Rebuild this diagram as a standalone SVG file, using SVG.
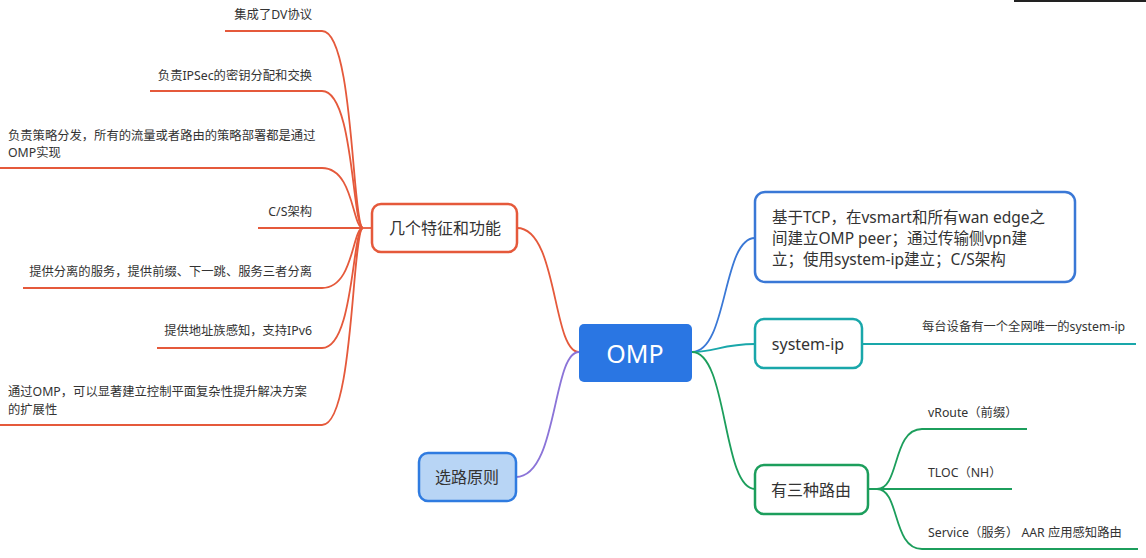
<svg xmlns="http://www.w3.org/2000/svg" width="1146" height="558" viewBox="0 0 1146 558">
<style>
text{font-family:"Noto Sans","Noto Sans CJK SC",sans-serif;fill:#333}
.leaf{font-size:12.3px}
.r{text-anchor:end}
.c{text-anchor:middle;dominant-baseline:central}
.red{fill:none;stroke:#E5593B;stroke-width:1.8}
.pur{fill:none;stroke:#8B74D8;stroke-width:1.8}
.blu{fill:none;stroke:#3A78D6;stroke-width:1.8}
.tea{fill:none;stroke:#19A7AA;stroke-width:1.8}
.grn{fill:none;stroke:#1C9E5C;stroke-width:1.8}
</style>
<rect width="1146" height="558" fill="#fff"/>
<rect x="1014" y="0" width="132" height="2" fill="#222"/>
<g id="connectors">
<path class="red" d="M517,228 C558,228 552,352 579,352"/>
<path class="pur" d="M516,477 C558,477 552,352 579,352"/>
<path class="blu" d="M692,352 C728,352 722,238 755,238"/>
<path class="tea" d="M692,352 C715,352 722,344 755,344"/>
<path class="grn" d="M692,352 C728,352 722,489 755,489"/>
<path class="red" d="M372,228 L363,228"/>
<path class="red" d="M363,228 C352,228 354,31 322,31 L225,31"/>
<path class="red" d="M363,228 C352,228 354,91 322,91 L150,91"/>
<path class="red" d="M363,228 C352,228 354,168 322,168 L0,168"/>
<path class="red" d="M363,228 L258,228"/>
<path class="red" d="M363,228 C352,228 354,288 322,288 L23,288"/>
<path class="red" d="M363,228 C352,228 354,348 322,348 L157,348"/>
<path class="red" d="M363,228 C352,228 354,425 322,425 L0,425"/>
<path class="tea" d="M862,344 L1136,344"/>
<path class="grn" d="M868,489 L877,489 C900,489 892,429 922,429 L1027,429"/>
<path class="grn" d="M877,489 L1012,489"/>
<path class="grn" d="M877,489 C900,489 892,549 922,549 L1138,549"/>
</g>
<g id="leaf-dv"><text class="leaf r" x="312" y="19">集成了DV协议</text></g>
<g id="leaf-ipsec"><text class="leaf r" x="312" y="80">负责IPSec的密钥分配和交换</text></g>
<g id="leaf-policy"><text class="leaf" x="8" y="140">负责策略分发，所有的流量或者路由的策略部署都是通过</text><text class="leaf" x="8" y="157">OMP实现</text></g>
<g id="leaf-cs"><text class="leaf r" x="312" y="216">C/S架构</text></g>
<g id="leaf-sep"><text class="leaf r" x="312" y="276">提供分离的服务，提供前缀、下一跳、服务三者分离</text></g>
<g id="leaf-ipv6"><text class="leaf r" x="312" y="335">提供地址族感知，支持IPv6</text></g>
<g id="leaf-scale"><text class="leaf" x="8" y="396">通过OMP，可以显著建立控制平面复杂性提升解决方案</text><text class="leaf" x="8" y="414">的扩展性</text></g>
<g id="features"><rect x="372" y="204" width="145" height="48" rx="9" fill="#fff" stroke="#E5593B" stroke-width="2.5"/><text class="c" x="445" y="228" font-size="16">几个特征和功能</text></g>
<g id="route-principle"><rect x="419" y="453" width="97" height="48" rx="9" fill="#B8D5F5" stroke="#2F7BE0" stroke-width="2.5"/><text class="c" x="467" y="477" font-size="16">选路原则</text></g>
<g id="omp"><rect x="579" y="324" width="113" height="58" rx="5" fill="#2A76E3"/><text class="c" x="635" y="353" font-size="25" style="fill:#fff">OMP</text></g>
<g id="tcp"><rect x="755" y="192" width="320" height="90" rx="10" fill="#fff" stroke="#3A78D6" stroke-width="2.5"/>
<text x="772" y="223" font-size="15.5">基于TCP，在vsmart和所有wan edge之</text>
<text x="772" y="244" font-size="15.5">间建立OMP peer；通过传输侧vpn建</text>
<text x="772" y="265" font-size="15.5">立；使用system-ip建立；C/S架构</text></g>
<g id="system-ip"><rect x="755" y="319" width="107" height="49" rx="9" fill="#fff" stroke="#19A7AA" stroke-width="2.5"/><text class="c" x="808" y="344" font-size="16">system-ip</text></g>
<g id="leaf-unique"><text class="leaf" x="922" y="331">每台设备有一个全网唯一的system-ip</text></g>
<g id="three-routes"><rect x="755" y="465" width="113" height="49" rx="9" fill="#fff" stroke="#1C9E5C" stroke-width="2.5"/><text class="c" x="811" y="490" font-size="16">有三种路由</text></g>
<g id="leaf-vroute"><text class="leaf" x="928" y="417">vRoute（前缀）</text></g>
<g id="leaf-tloc"><text class="leaf" x="928" y="477">TLOC（NH）</text></g>
<g id="leaf-service"><text class="leaf" x="928" y="537">Service（服务）  AAR 应用感知路由</text></g>
</svg>
